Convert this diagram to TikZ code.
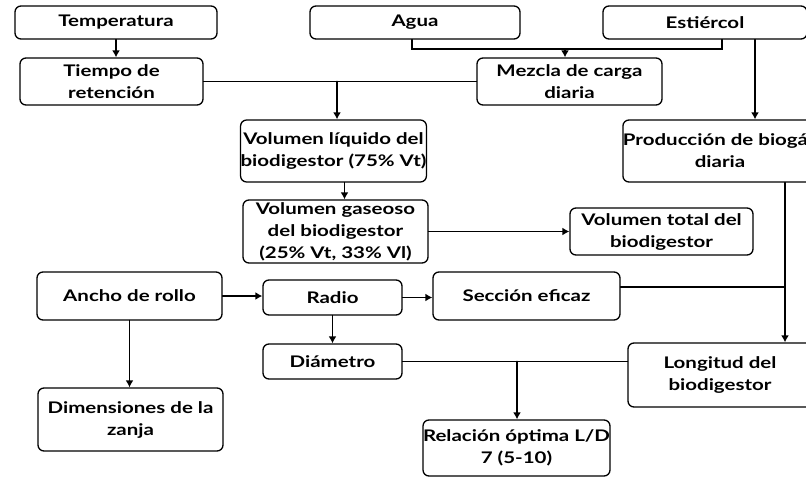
\documentclass[tikz,border=0pt]{standalone}
\usepackage{fontspec}
\setmainfont[FakeStretch=1.28]{Lato}
\usetikzlibrary{arrows.meta}
\tikzset{>={Latex[length=7pt,width=8pt]},
  box/.style={draw, rounded corners=6pt, line width=1.3pt, align=center,
    inner sep=0pt, font=\bfseries\fontsize{16}{22}\selectfont},
  conn/.style={line width=1.7pt}}

\begin{document}
\begin{tikzpicture}[x=1pt, y=-1pt, line cap=round]

  \path[use as bounding box, clip] (0,0) rectangle (806,482);

  % entradas
  \node[box, minimum width=202pt, minimum height=33pt] (temp) at (116,22.5) {Temperatura};
  \node[box, minimum width=210pt, minimum height=33pt] (agua) at (415,22.5) {Agua};
  \node[box, minimum width=204pt, minimum height=33pt] (estiercol) at (705,22.5) {Estiércol};

  \node[box, minimum width=183pt, minimum height=47pt] (tiempo) at (111.5,81.5) {Tiempo de\\retención};
  \node[box, minimum width=185pt, minimum height=47pt] (mezcla) at (569.5,81.5) {Mezcla de carga\\diaria};
  \node[box, minimum width=184pt, minimum height=62pt] (produccion) at (720,151) {Producción de biogás\\diaria};

  % volumenes
  \node[box, minimum width=183pt, minimum height=62pt] (liquido) at (333.5,151) {Volumen líquido del\\biodigestor (75\% Vt)};
  \node[box, minimum width=185pt, minimum height=63pt] (gaseoso) at (335.5,231.5) {Volumen gaseoso\\del biodigestor\\(25\% Vt, 33\% Vl)};
  \node[box, minimum width=183pt, minimum height=47pt] (total) at (661.5,231.5) {Volumen total del\\biodigestor};

  % dimensiones
  \node[box, minimum width=185pt, minimum height=48pt] (ancho) at (129.5,296) {Ancho de rollo};
  \node[box, minimum width=139pt, minimum height=35pt] (radio) at (332.5,297.5) {Radio};
  \node[box, minimum width=187pt, minimum height=48pt] (seccion) at (526.5,296) {Sección eficaz};
  \node[box, minimum width=139pt, minimum height=35pt] (diametro) at (332.5,361.5) {Diámetro};
  \node[box, minimum width=184pt, minimum height=64pt] (longitud) at (720,375) {Longitud del\\biodigestor};
  \node[box, minimum width=185pt, minimum height=63pt] (dimensiones) at (130.5,419.5) {Dimensiones de la\\zanja};
  \node[box, minimum width=183pt, minimum height=56pt] (relacion) at (516.5,448) {Relación óptima L/D\\7 (5-10)};

  \coordinate (mix) at (565,49);
  \coordinate (ret) at (337,81.5);
  \coordinate (est) at ([xshift=50pt]estiercol.south);
  \coordinate (liq) at ([xshift=11pt]liquido.south);
  \coordinate (bio) at ([xshift=65pt]produccion.south);
  \coordinate (ld) at (517,361.5);

  \draw[conn,->] (temp.south) -- (temp.south |- tiempo.north);
  \draw[conn] ([xshift=-3pt]agua.south) |- (mix) -| ([xshift=17pt]estiercol.south);
  \draw[conn,->] (mix) -- (mix |- mezcla.north);
  \draw[conn] (tiempo.east) -- (tiempo.east -| mezcla.west);
  \draw[conn,->] (ret) -- (ret |- liquido.north);
  \draw[conn,->] (est) -- (est |- produccion.north);
  \draw[conn,->] (liq) -- (liq |- gaseoso.north);
  \draw[conn,->] (gaseoso.east) -- (total.west);

  \draw[conn,->] (ancho.east) -- (ancho.east -| radio.west);
  \draw[conn,->] (radio.east) -- (radio.east -| seccion.west);
  \draw[conn,->] (radio.south) -- (diametro.north);
  \draw[conn,->] (ancho.south) -- (ancho.south |- dimensiones.north);
  \draw[conn,->] (bio) -- (bio |- longitud.north);
  \draw[conn] ([yshift=9pt]seccion.east) -- ([yshift=9pt]seccion.east -| bio);
  \draw[conn] (diametro.east) -- (diametro.east -| longitud.west);
  \draw[conn,->] (ld) -- (ld |- relacion.north);

\end{tikzpicture}
\end{document}
